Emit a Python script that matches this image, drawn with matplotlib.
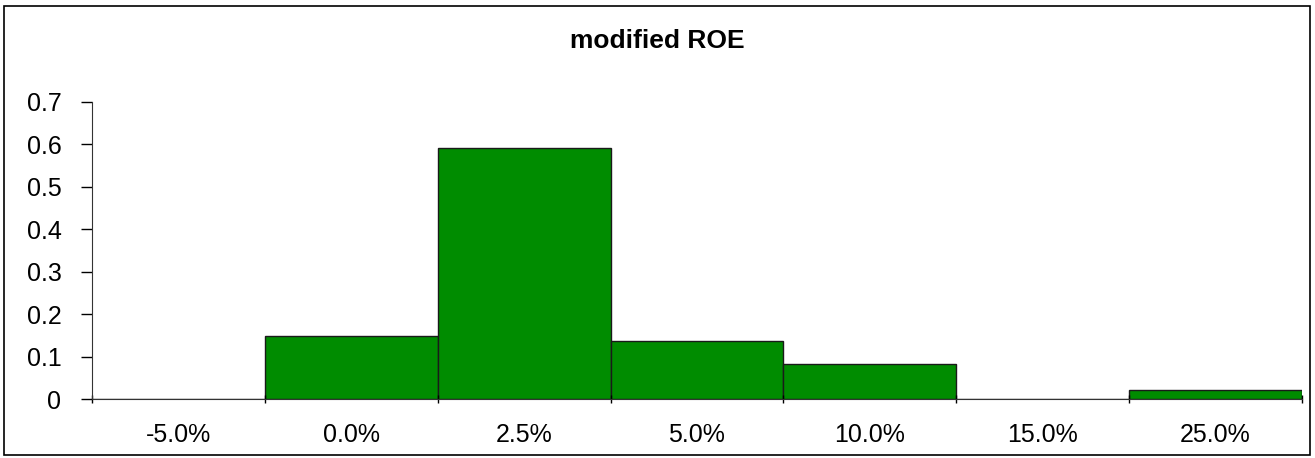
import matplotlib
matplotlib.use('Agg')
import matplotlib.pyplot as plt
import numpy as np
from matplotlib.patches import Rectangle

# 分组标签与频率
categories = ['-5.0%', '0.0%', '2.5%', '5.0%', '10.0%', '15.0%', '25.0%']
freq = [0.0, 0.149, 0.592, 0.137, 0.083, 0.0, 0.021]
yticks = [0, 0.1, 0.2, 0.3, 0.4, 0.5, 0.6, 0.7]

plt.rcParams['font.family'] = ['Liberation Sans', 'DejaVu Sans']

fig = plt.figure(figsize=(13.15, 4.58), dpi=100)
ax = fig.add_axes([0.070, 0.1288, 0.920, 0.6485])

x = np.arange(len(categories))
ax.bar(x, freq, width=1.0, color='#008C00', edgecolor='#1a1a1a', linewidth=1.0)

ax.set_xlim(-0.5, len(categories) - 0.5)
ax.set_ylim(0, 0.7)
ax.set_yticks(yticks)
ax.set_yticklabels(['0'] + ['%.1f' % v for v in yticks[1:]])

# x 刻度在分组边界, 标签在中间
ax.set_xticks(np.arange(len(categories) + 1) - 0.5)
ax.set_xticklabels([])
ax.set_xticks(x, minor=True)
ax.set_xticklabels(categories, minor=True)
ax.tick_params(axis='x', which='minor', length=0, pad=17, labelsize=18)
ax.tick_params(axis='x', which='major', direction='inout', length=6, width=1)
ax.tick_params(axis='y', direction='out', length=8, width=1, labelsize=18, pad=14)

for s in ['top', 'right']:
    ax.spines[s].set_visible(False)
ax.spines['left'].set_color('#333333')
ax.spines['bottom'].set_color('#333333')

fig.text(0.5, 0.910, 'modified ROE', ha='center', va='center',
         fontsize=19, fontweight='bold')

# 外边框
fig.patches.append(Rectangle((4 / 1315, 3 / 458), 1306 / 1315, 449 / 458,
                             transform=fig.transFigure, fill=False,
                             edgecolor='black', linewidth=1.2))

fig.savefig('out.png', dpi=100)
